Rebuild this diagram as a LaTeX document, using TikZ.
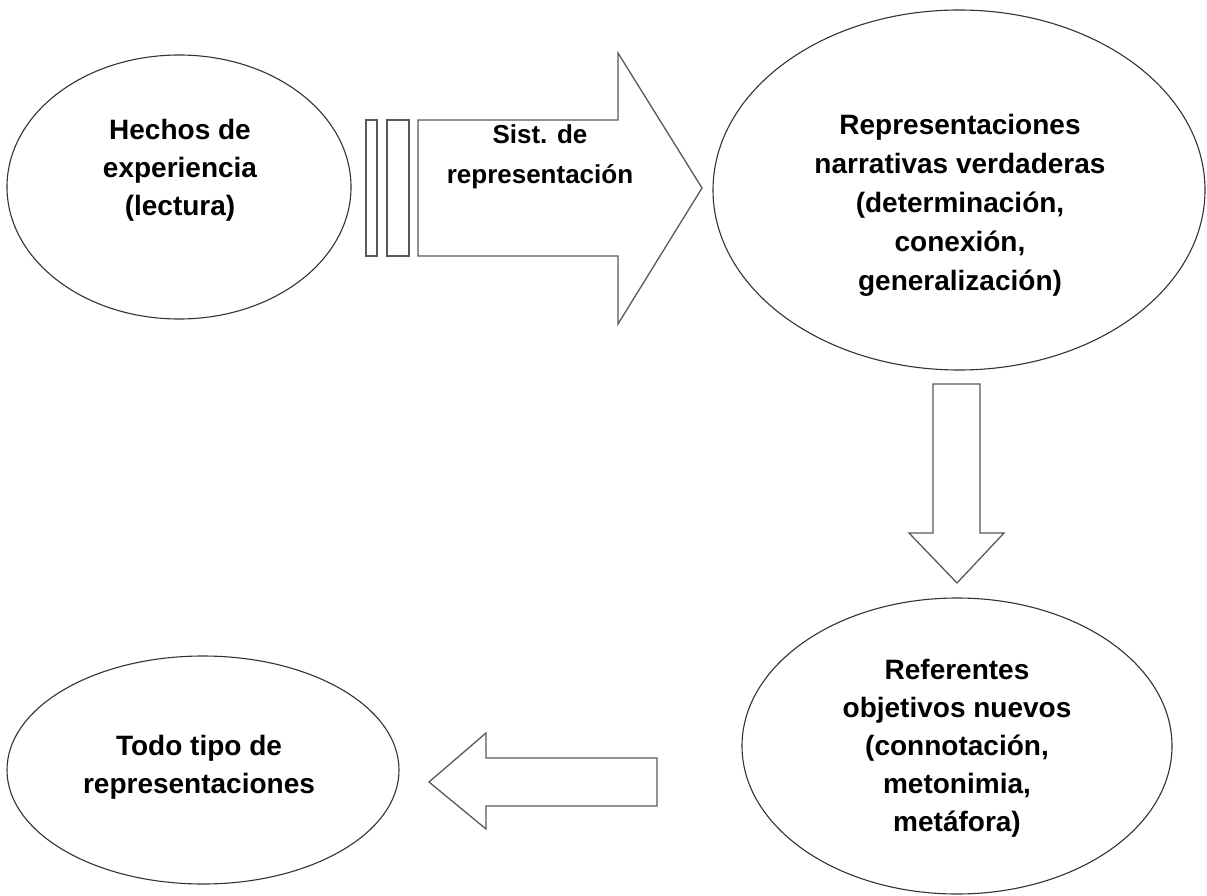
\documentclass[tikz,border=0pt]{standalone}
\usepackage{fontspec}
\setmainfont{Liberation Sans}
\usetikzlibrary{shapes.geometric}
\begin{document}
\tikzset{
  bubble/.style={draw=black!80, line width=1.1pt, ellipse, inner sep=0pt},
  bubbletext/.style={font=\fontsize{28}{38}\selectfont\bfseries, align=center, inner sep=0pt},
  arrowtext/.style={font=\fontsize{26}{40}\selectfont\bfseries, align=center, inner sep=0pt},
  blockarrow/.style={draw=black!65, line width=1.3pt, fill=white, line join=miter},
}
\begin{tikzpicture}[x=1pt,y=-1pt]
\useasboundingbox (0,0) rectangle (1207,896);
\fill[white] (0,0) rectangle (1207,896);

% ellipses
\node[bubble, minimum width=344pt, minimum height=264pt] (e1) at (179,187) {};
\node[bubbletext] (t1) at (180,170) {Hechos de\\experiencia\\(lectura)};

\node[bubble, minimum width=492pt, minimum height=360pt] (e2) at (959,190) {};
\node[bubbletext, font=\fontsize{28}{39}\selectfont\bfseries] (t2) at (960,205) {Representaciones\\narrativas verdaderas\\(determinación,\\conexión,\\generalización)};

\node[bubble, minimum width=430pt, minimum height=296pt] (e3) at (957,746) {};
\node[bubbletext] (t3) at (957,748) {Referentes\\objetivos nuevos\\(connotación,\\metonimia,\\metáfora)};

\node[bubble, minimum width=392pt, minimum height=228pt] (e4) at (203,770) {};
\node[bubbletext] (t4) at (199,767) {Todo tipo de\\representaciones};

% right block arrow with stripes
\draw[blockarrow] (366,120) rectangle (377,256);
\draw[blockarrow] (387,120) rectangle (409,256);
\draw[blockarrow] (418,120) -- (618,120) -- (618,53) -- (702,188) -- (618,324) -- (618,256) -- (418,256) -- cycle;
\node[arrowtext] (ta) at (540,157) {Sist. de\\representación};

% down block arrow
\draw[blockarrow] (933,384) -- (980,384) -- (980,533) -- (1004,533) -- (957,583) -- (909,533) -- (933,533) -- cycle;

% left block arrow
\draw[blockarrow] (657,758) -- (657,806) -- (486,806) -- (486,829) -- (429,782) -- (486,733) -- (486,758) -- cycle;
\end{tikzpicture}
\end{document}
